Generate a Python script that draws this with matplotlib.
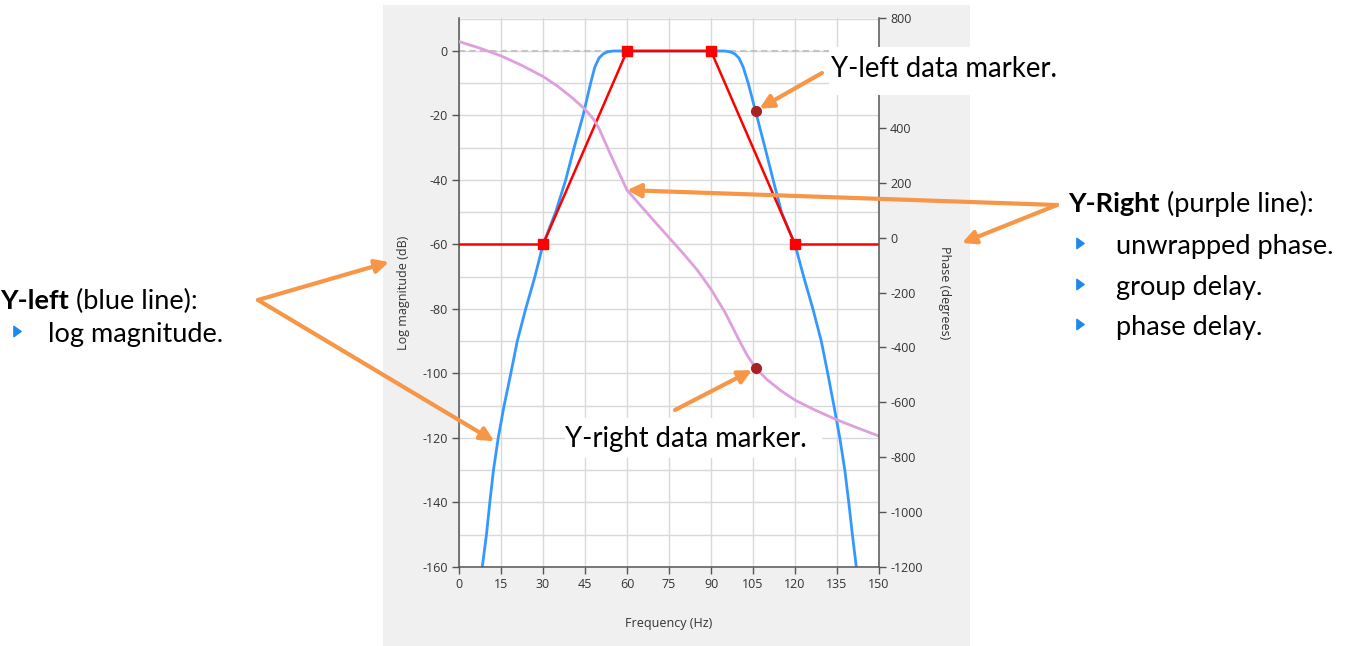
import matplotlib.pyplot as plt
from matplotlib.patches import Rectangle, ConnectionPatch
from matplotlib.lines import Line2D
from matplotlib.path import Path

plt.rcParams.update({
    "font.family": "Open Sans",
    "axes.unicode_minus": False,
})

W, H = 1348, 646

# Log magnitude (blue line, left axis)
mag_freq = [8.3, 9.8, 11.0, 12.3, 14.0, 16.1, 18.5, 20.8, 23.8, 27.1, 30.0,
            34.5, 38.1, 41.1, 44.3, 47.0, 48.5, 50.0, 51.5, 53.0, 55.0,
            95.0, 97.0, 98.5, 100.0, 101.5, 103.3, 106.3, 109.3, 112.2, 115.2,
            120.0, 123.1, 126.4, 129.4, 131.7, 133.9, 136.0, 137.8, 139.2, 140.5, 141.9]
mag_db = [-160, -150, -140, -130, -120, -110, -100, -90, -80, -70, -60,
          -50, -40, -30, -20, -10, -5, -2.2, -0.9, -0.3, 0,
          0, -0.3, -0.9, -2.2, -5, -10, -20, -30, -40, -50,
          -60, -70, -80, -90, -100, -110, -120, -130, -140, -150, -160]

# Unwrapped phase (purple line, right axis)
phase_freq = [0, 7.5, 15, 22.5, 30, 35, 40, 45, 48, 50, 52.5, 55, 57.5, 60, 65, 70,
              75, 80, 85, 90, 95, 100, 103, 106, 110, 115, 120, 127.5, 135, 142.5, 150]
phase_deg = [714, 690, 662, 627, 587, 553, 513, 468, 432, 398, 340, 283, 228, 173, 115, 57,
             0, -57, -117, -188, -272, -373, -430, -476, -517, -558, -592, -630, -664, -694, -723]

# Spec mask (red line)
mask_freq = [0, 30, 60, 90, 120, 150]
mask_db = [-60, -60, 0, 0, -60, -60]

# Data markers
marker_left = (106, -18.5)
marker_right = (106, -476)

fig = plt.figure(figsize=(W / 100, H / 100), dpi=100)

# grey chart panel
fig.add_artist(Rectangle((383 / W, 0), (970 - 383) / W, (H - 5) / H,
                         transform=fig.transFigure, fc='#f0f0f0', ec='none', zorder=-5))

ax = fig.add_axes([459 / W, (H - 567) / H, 420 / W, 549 / H])
ax.set_facecolor('white')
ax2 = ax.twinx()

ax.set_xlim(0, 150)
ax.set_ylim(-160, 10.23)
ax2.set_ylim(-1200, 800)

ax.set_xticks(range(0, 151, 15))
ax.set_yticks(range(-160, 1, 20))
ax.set_yticks(range(-150, 11, 20), minor=True)
ax2.set_yticks(range(-1200, 801, 200))
# the 600 label sits under the callout box
ax2.set_yticklabels(['' if v == 600 else str(v) for v in range(-1200, 801, 200)])

ax.grid(which='both', axis='y', color='#d9d9d9', lw=1)
ax.grid(which='major', axis='x', color='#d9d9d9', lw=1)
ax.set_axisbelow(True)

for a in (ax, ax2):
    a.tick_params(direction='out', length=5, width=1, color='#555555',
                  labelcolor='#333333', labelsize=9, pad=3)
    a.tick_params(which='minor', length=0)
    for s in a.spines.values():
        s.set_color('#555555')
        s.set_linewidth(1.1)
    a.spines['top'].set_visible(False)
ax.spines['right'].set_visible(False)
ax2.spines['left'].set_visible(False)
ax2.spines['bottom'].set_visible(False)

ax.set_xlabel('Frequency (Hz)', fontsize=9, color='#333333', labelpad=19)
ax.set_ylabel('Log magnitude (dB)', fontsize=9, color='#333333', labelpad=9)
ax2.set_ylabel('Phase (degrees)', fontsize=9, color='#333333', rotation=-90,
               va='bottom', labelpad=11)

ax.axhline(0, color='#c4c4c4', lw=1.5, ls=(0, (3, 2)), zorder=1.5)
ax.plot(mag_freq, mag_db, color='#3399ff', lw=2, zorder=2)
ax.plot(mask_freq, mask_db, color='#ff0000', lw=1.8, marker='s', ms=7.5,
        markevery=[1, 2, 3, 4], zorder=3)
ax.plot(*marker_left, 'o', color='#a82222', ms=7, zorder=4)
ax2.plot(phase_freq, phase_deg, color='#dda0dd', lw=2, zorder=2)
ax2.plot(*marker_right, 'o', color='#a82222', ms=7, zorder=4)

# white callout boxes
fig.add_artist(Rectangle((829 / W, 1 - 95 / H), (1082 - 829) / W, 48 / H,
                         transform=fig.transFigure, fc='white', ec='none', zorder=4))
fig.add_artist(Rectangle((565 / W, 1 - 458 / H), (822 - 565) / W, 40 / H,
                         transform=fig.transFigure, fc='white', ec='none', zorder=4))

note_font = 'Lato'
fig.text(831 / W, 1 - 77 / H, 'Y-left data marker.', fontsize=19.8, family=note_font,
         va='baseline', zorder=5)
fig.text(565 / W, 1 - 447 / H, 'Y-right data marker.', fontsize=19.8, family=note_font,
         va='baseline', zorder=5)

renderer = fig.canvas.get_renderer()


def rich_text(x, y, bold, rest, size):
    t = fig.text(x / W, 1 - y / H, bold, fontsize=size, family=note_font,
                 fontweight='bold', va='baseline', zorder=5)
    bb = t.get_window_extent(renderer)
    fig.text(bb.x1 / W, 1 - y / H, rest, fontsize=size, family=note_font,
             va='baseline', zorder=5)


tri = Path([(-0.35, -0.5), (0.35, 0), (-0.35, 0.5), (-0.35, -0.5)],
           [Path.MOVETO, Path.LINETO, Path.LINETO, Path.CLOSEPOLY])


def bullet(x, y, label, size, gap=36):
    fig.add_artist(Line2D([x / W], [1 - y / H], transform=fig.transFigure, marker=tri,
                          ms=7.5, color='#1e88f0', ls='none', zorder=5))
    fig.text((x + gap) / W, 1 - (y + 11) / H, label, fontsize=size, family=note_font,
             va='baseline', zorder=5)


text_size = 19.5
rich_text(1068, 212, 'Y-Right', ' (purple line):', text_size)
bullet(1080, 243, 'unwrapped phase.', text_size)
bullet(1080, 284, 'group delay.', text_size)
bullet(1080, 324, 'phase delay.', text_size)

rich_text(0, 309, 'Y-left', ' (blue line):', text_size)
bullet(17, 331, 'log magnitude.', text_size, gap=31)

# orange arrows
arrow_kw = dict(arrowstyle='-|>', mutation_scale=20, lw=3, color='#f79646',
                shrinkA=0, shrinkB=0, zorder=6)


def arrow_fig(tail, head):
    fig.add_artist(ConnectionPatch(xyA=(tail[0], H - tail[1]), coordsA='figure pixels',
                                   xyB=(head[0], H - head[1]), coordsB='figure pixels',
                                   **arrow_kw))


def arrow_data(tail, head, axes, shrink=0):
    kw = dict(arrow_kw, shrinkB=shrink)
    fig.add_artist(ConnectionPatch(xyA=(tail[0], H - tail[1]), coordsA='figure pixels',
                                   xyB=head, coordsB='data', axesB=axes, **kw))


arrow_data((1057, 205), (60, 173), ax2)
arrow_fig((1057, 205), (962, 243))
arrow_fig((258, 300), (389, 262))
arrow_data((258, 300), (12.6, -121), ax)
arrow_data((822, 73), marker_left, ax, shrink=3)
arrow_data((675, 410), marker_right, ax2, shrink=3)

fig.savefig('out.png', dpi=100)
